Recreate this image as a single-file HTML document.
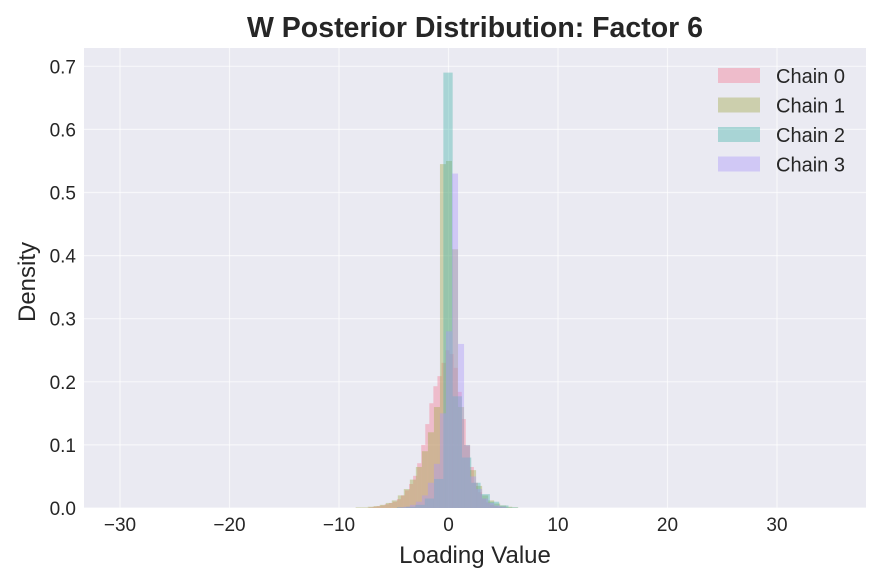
<!DOCTYPE html>
<html><head><meta charset="utf-8"><style>
body{margin:0;background:#fff;font-family:"Liberation Sans",sans-serif}
</style></head><body>
<svg id="chart" width="882" height="582" xmlns="http://www.w3.org/2000/svg">
<rect x="84" y="48" width="782" height="460" fill="#eaeaf2"/>
<g id="grid"></g><g id="bars"></g><g id="ticks"></g>
<text x="475" y="37" text-anchor="middle" font-size="28.5" font-weight="bold" fill="#262626">W Posterior Distribution: Factor 6</text>
<text x="475" y="563" text-anchor="middle" font-size="24" fill="#262626">Loading Value</text>
<text transform="translate(35,282) rotate(-90)" text-anchor="middle" font-size="24" fill="#262626">Density</text>
<g id="legend"></g>
</svg>
<script>
const xTicks=[-30,-20,-10,0,10,20,30];
const yTicks=[0,0.1,0.2,0.3,0.4,0.5,0.6,0.7];
const chainNames=["Chain 0","Chain 1","Chain 2","Chain 3"];
const chainStarts=[-7.3,-8.48,-4.72,-4.63];
const chainWidths=[0.37,0.55,0.85,0.55];
const chain0=[0.001,0.002,0.003,0.004,0.006,0.008,0.01,0.014,0.02,0.028,0.038,0.051,0.071,0.10,0.133,0.166,0.193,0.209,0.23,0.25,0.244,0.222,0.184,0.141,0.098,0.065,0.04,0.025,0.015,0.009,0.005,0.003,0.002,0.001];
const chain1=[0.001,0.001,0.002,0.003,0.005,0.008,0.012,0.02,0.03,0.045,0.065,0.09,0.12,0.16,0.545,0.55,0.41,0.16,0.1,0.06,0.035,0.02,0.012,0.007,0.004,0.002,0.001];
const chain2=[0.001,0.002,0.005,0.015,0.046,0.69,0.177,0.08,0.04,0.022,0.01,0.004,0.001];
const chain3=[0.001,0.002,0.005,0.01,0.02,0.04,0.07,0.15,0.28,0.53,0.26,0.1,0.05,0.03,0.015,0.008,0.004,0.002];
const chainColors=["rgb(245,120,145)","rgb(160,168,70)","rgb(70,180,170)","rgb(170,150,250)"];
const allData=[chain0,chain1,chain2,chain3];
const NS="http://www.w3.org/2000/svg";
const X0=84,X1=866,Y0=508;
const xs=v=>448.5+v*10.95;
const ys=v=>Y0-v*631;
function mk(tag,attrs,parent){const e=document.createElementNS(NS,tag);for(const k in attrs)e.setAttribute(k,attrs[k]);parent.appendChild(e);return e;}
const grid=document.getElementById('grid'),ticks=document.getElementById('ticks'),bars=document.getElementById('bars'),leg=document.getElementById('legend');
xTicks.forEach(t=>{
 const l=mk('line',{x1:xs(t),x2:xs(t),y1:48,y2:Y0,stroke:'#fff','stroke-width':1.2,'stroke-opacity':0.6},grid);
 
 
 const tx=mk('text',{x:xs(t),y:531,'text-anchor':'middle','font-size':19,fill:'#262626'},ticks);
 tx.textContent=(t<0?'\u2212'+(-t):t);
 
 
});
yTicks.forEach(t=>{
 const l=mk('line',{x1:X0,x2:X1,y1:ys(t),y2:ys(t),stroke:'#fff','stroke-width':1.2,'stroke-opacity':0.6},grid);
 
 
 const tx=mk('text',{x:76,y:ys(t)+7,'text-anchor':'end','font-size':19,fill:'#262626'},ticks);
 tx.textContent=t.toFixed(1);
 
 
});
allData.forEach((arr,c)=>{
 arr.forEach((d,i)=>{
  const a=chainStarts[c]+i*chainWidths[c];
  const r=mk('rect',{x:xs(a),y:ys(d),width:xs(a+chainWidths[c])-xs(a),height:Y0-ys(d),fill:chainColors[c],'fill-opacity':0.4},bars);
  
  
 });
});
chainNames.forEach((n,i)=>{
 const y=76+i*29.5;
 const r=mk('rect',{x:718,y:y-8,width:42,height:15,fill:chainColors[i],'fill-opacity':0.4},leg);
 
 
 const t=mk('text',{x:776,y:y+7,'font-size':20,fill:'#262626'},leg);
 t.textContent=n;
 
 
});
</script>
</body></html>
